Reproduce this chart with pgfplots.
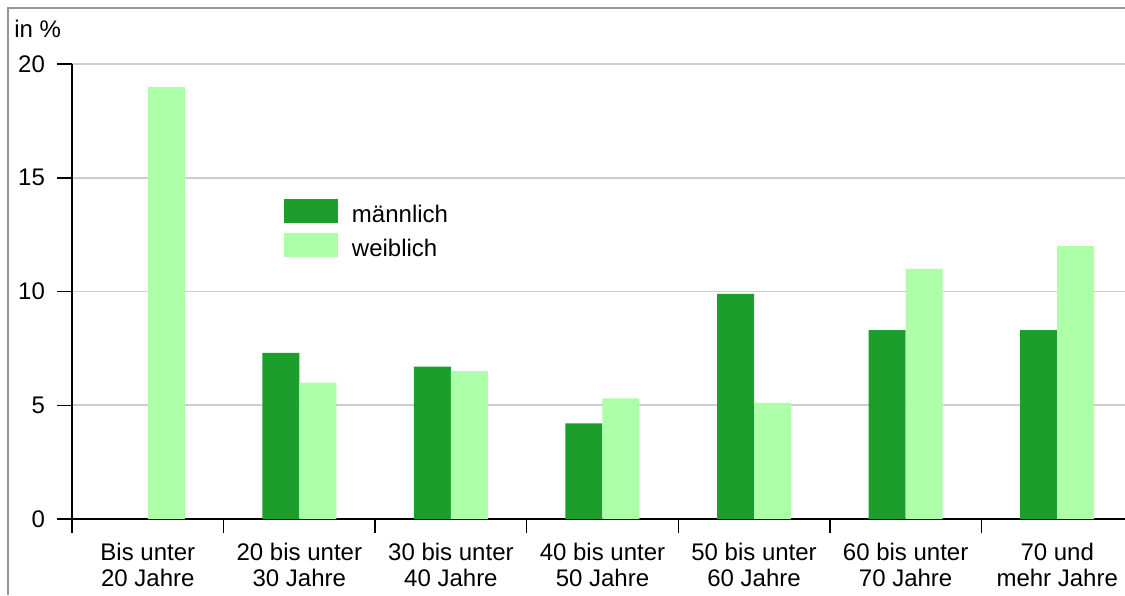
\documentclass[border=0pt]{standalone}
\usepackage{fontspec}
\setmainfont{Liberation Sans}
\usepackage{pgfplots}
\pgfplotsset{compat=1.18}
\definecolor{male}{RGB}{28,158,44}
\definecolor{female}{RGB}{173,255,168}
\definecolor{framegray}{RGB}{150,150,150}
\definecolor{gridgray}{RGB}{205,205,205}
\begin{document}
\begin{tikzpicture}
\useasboundingbox (0,0) rectangle (562.5pt,-297.5pt);
\fill[white] (0,0) rectangle (562.5pt,-297.5pt);
\draw[framegray, line width=1pt] (4pt,-297.5pt) -- (4pt,-4pt) -- (562.5pt,-4pt);
\begin{axis}[
  at={(36pt,-259.5pt)}, anchor=south west,
  scale only axis, width=530.5pt, height=227.5pt,
  xmin=-0.5, xmax=6.5, ymin=0, ymax=20,
  axis lines*=left,
  axis line style={black, line width=0.75pt},
  ytick={0,5,10,15,20},
  ymajorgrids,
  major grid style={gridgray, line width=0.9pt},
  tick align=outside,
  major tick length=7.5pt,
  minor tick length=7pt,
  tick style={black, line width=0.75pt},
  ytick pos=left,
  xtick={0,1,2,3,4,5,6},
  xticklabels={{Bis unter\\20 Jahre},{20 bis unter\\30 Jahre},{30 bis unter\\40 Jahre},{40 bis unter\\50 Jahre},{50 bis unter\\60 Jahre},{60 bis unter\\70 Jahre},{70 und\\mehr Jahre}},
  minor xtick={-0.5,0.5,1.5,2.5,3.5,4.5,5.5,6.5},
  major x tick style={draw=none},
  xtick pos=bottom,
  /pgf/number format/assume math mode=true,
  every tick label/.append style={font=\fontsize{12}{13}\selectfont},
  xticklabel style={align=center, yshift=-1pt},
  yticklabel style={xshift=-2.5pt},
  ybar=0pt,
  bar width=18.5pt,
  legend style={draw=none, fill=none, at={(rel axis cs:0.1998,0.7033)}, anchor=north west,
    inner sep=0pt, outer sep=0pt, row sep=2pt, column sep=5pt,
    font=\fontsize{12}{13}\selectfont},
  legend cell align=left,
  legend image code/.code={\fill[#1, draw=none] (0pt,-4pt) rectangle (27pt,8pt);},
]
\addplot[fill=male, draw=none] coordinates {(1,7.3) (2,6.7) (3,4.2) (4,9.9) (5,8.3) (6,8.3)};
\addplot[fill=female, draw=none] coordinates {(0,19) (1,6.0) (2,6.5) (3,5.3) (4,5.1) (5,11.0) (6,12.0)};
\legend{männlich, weiblich}
\end{axis}
\node[anchor=base west, inner sep=0pt, font=\fontsize{12}{13}\selectfont] at (7pt,-18.5pt) {in \%};
\end{tikzpicture}
\end{document}
